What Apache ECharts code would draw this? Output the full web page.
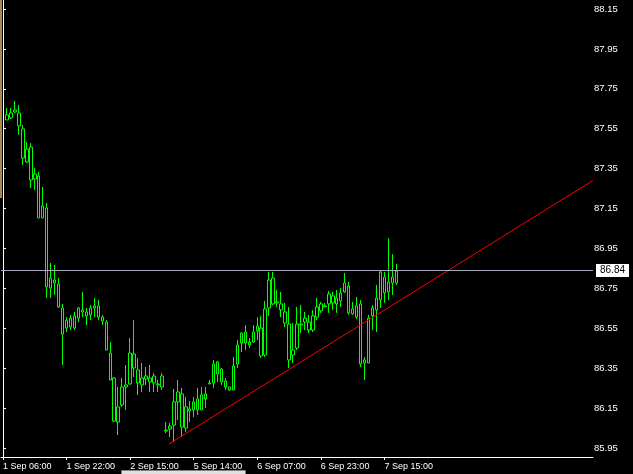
<!DOCTYPE html>
<html><head><meta charset="utf-8">
<script src="https://cdn.jsdelivr.net/npm/echarts@6/dist/echarts.min.js"></script>
<style>html,body{margin:0;padding:0;background:#000;}#c{width:633px;height:474px;}</style>
</head><body><div id="c"></div>
<script>
// hourly bars, slot 1 .. 99
const firstSlot = 1;
const slotCount = 149;
const opens  = [87.594,87.604,87.634,87.629,87.549,87.383,87.458,87.298,87.313,87.103,87.153,86.752,86.792,86.772,86.652,86.551,86.556,86.612,86.601,86.642,86.632,86.617,86.652,86.662,86.606,86.581,86.426,86.301,86.080,86.166,86.256,86.271,86.421,86.341,86.266,86.296,86.301,86.276,86.271,86.256,86.040,86.045,86.065,86.181,86.221,86.050,86.146,86.141,86.141,86.216,86.196,86.271,86.276,86.381,86.346,86.286,86.256,86.241,86.371,86.476,86.531,86.481,86.481,86.536,86.551,86.416,86.652,86.802,86.677,86.672,86.632,86.571,86.416,86.451,86.571,86.581,86.581,86.541,86.606,86.637,86.662,86.672,86.712,86.672,86.687,86.732,86.762,86.622,86.606,86.672,86.376,86.376,86.612,86.642,86.692,86.807,86.732,86.777,86.777];
const closes = [87.619,87.629,87.644,87.564,87.403,87.448,87.293,87.323,87.103,87.163,86.757,86.802,86.777,86.657,86.521,86.591,86.601,86.551,86.652,86.632,86.612,86.652,86.662,86.606,86.586,86.441,86.291,86.085,86.156,86.256,86.266,86.426,86.351,86.276,86.301,86.311,86.281,86.311,86.266,86.311,86.035,86.060,86.181,86.231,86.055,86.156,86.136,86.181,86.196,86.141,86.221,86.276,86.371,86.321,86.281,86.256,86.241,86.361,86.466,86.526,86.476,86.466,86.531,86.561,86.411,86.647,86.792,86.672,86.682,86.642,86.576,86.391,86.441,86.571,86.566,86.601,86.541,86.612,86.657,86.672,86.657,86.722,86.677,86.702,86.727,86.777,86.627,86.647,86.662,86.371,86.391,86.601,86.652,86.702,86.832,86.727,86.782,86.807,86.837];
const lows   = [87.594,87.599,87.629,87.519,87.368,87.378,87.253,87.243,87.103,87.103,86.702,86.702,86.717,86.652,86.366,86.531,86.541,86.541,86.581,86.606,86.566,86.591,86.606,86.591,86.566,86.441,86.291,86.080,86.015,86.156,86.141,86.266,86.306,86.216,86.231,86.266,86.231,86.231,86.231,86.241,86.025,86.005,85.980,86.090,86.005,86.030,86.080,86.105,86.115,86.141,86.151,86.271,86.251,86.281,86.266,86.241,86.236,86.241,86.351,86.431,86.441,86.451,86.476,86.491,86.401,86.406,86.612,86.667,86.657,86.606,86.556,86.351,86.376,86.441,86.526,86.541,86.526,86.531,86.591,86.627,86.657,86.627,86.642,86.627,86.657,86.727,86.617,86.617,86.596,86.356,86.291,86.376,86.541,86.531,86.652,86.677,86.692,86.717,86.767];
const highs  = [87.654,87.654,87.689,87.669,87.569,87.483,87.478,87.353,87.333,87.258,87.178,86.877,86.867,86.802,86.672,86.606,86.617,86.632,86.657,86.732,86.652,86.667,86.702,86.692,86.617,86.591,86.481,86.306,86.256,86.301,86.366,86.501,86.591,86.401,86.376,86.356,86.366,86.326,86.291,86.326,86.080,86.075,86.246,86.291,86.251,86.206,86.186,86.206,86.251,86.256,86.256,86.291,86.391,86.386,86.351,86.301,86.256,86.406,86.491,86.531,86.566,86.501,86.566,86.606,86.612,86.687,86.832,86.832,86.742,86.732,86.677,86.657,86.576,86.657,86.667,86.632,86.617,86.642,86.702,86.682,86.677,86.737,86.732,86.742,86.752,86.827,86.782,86.682,86.707,86.692,86.406,86.617,86.667,86.767,86.842,86.832,87.002,86.922,86.872];
const currentPrice = 86.84;
const trendX = [41.75, 148.5];
const trendY = [85.970, 87.291];
const timeLabels = ['1 Sep 06:00','1 Sep 22:00','2 Sep 15:00','5 Sep 14:00','6 Sep 07:00','6 Sep 23:00','7 Sep 15:00'];
const timeLabelStep = 16;
const priceTicks = [85.95,86.15,86.35,86.55,86.75,86.95,87.15,87.35,87.55,87.75,87.95,88.15];

const categories = [];
for (let s = 0; s < slotCount; s++) categories.push(String(s));
const rows = opens.map((o, k) => [firstSlot + k, o, closes[k], lows[k], highs[k]]);
const trend = trendX.map((x, k) => [x, trendY[k]]);

const FONT = 'Liberation Sans';
const chart = echarts.init(document.getElementById('c'), null, {renderer: 'canvas'});
chart.setOption({
  backgroundColor: '#000',
  animation: false,
  grid: {left: -3, top: 0, width: 596, height: 457},
  xAxis: [{
    type: 'category', data: categories, boundaryGap: true,
    axisLine: {show: true, lineStyle: {color: '#fff', width: 1}},
    axisTick: {show: true, alignWithLabel: true, length: 3, lineStyle: {color: '#fff'},
      interval: (i) => i % timeLabelStep === 0 && i / timeLabelStep < timeLabels.length},
    axisLabel: {show: true, color: '#fff', fontFamily: FONT, fontSize: 9, align: 'left', margin: 5,
      padding: [0, 0, 0, 0], hideOverlap: false,
      interval: (i) => i % timeLabelStep === 0 && i / timeLabelStep < timeLabels.length,
      formatter: (v, i) => timeLabels[i / timeLabelStep] || ''},
    splitLine: {show: false}
  }, {
    type: 'value', min: -0.5, max: slotCount - 0.5, show: false
  }],
  yAxis: {
    type: 'value', position: 'right', min: 85.905, max: 88.195, scale: true,
    axisLine: {show: true, lineStyle: {color: '#fff', width: 1}},
    axisTick: {show: true, length: 3, lineStyle: {color: '#fff'}, customValues: priceTicks},
    axisLabel: {show: true, color: '#fff', fontFamily: FONT, fontSize: 9.5, margin: 1,
      customValues: priceTicks, formatter: (v) => v.toFixed(2)},
    splitLine: {show: false}
  },
  graphic: [
    {type: 'rect', shape: {x: 0, y: 0, width: 2, height: 198}, style: {fill: '#a88a50'}, z: 100},
    {type: 'rect', shape: {x: 121.5, y: 470.5, width: 124, height: 6}, style: {fill: '#e0e0e0', stroke: '#808080', lineWidth: 1}, z: 100}
  ],
  series: [{
    type: 'candlestick', xAxisIndex: 0, yAxisIndex: 0,
    data: rows, encode: {x: 0, y: [1, 2, 3, 4]},
    barWidth: 3,
    itemStyle: {color: '#000', color0: '#000', borderColor: '#00ff00', borderColor0: '#00ff00', borderWidth: 1},
    markLine: {
      silent: true, symbol: 'none', animation: false,
      lineStyle: {color: '#a4acbe', width: 1, type: 'solid'},
      label: {show: true, position: 'end', distance: 3, formatter: () => currentPrice.toFixed(2),
        backgroundColor: '#fff', color: '#000', fontFamily: FONT, fontSize: 10, padding: [2, 4, 1, 4]},
      data: [{yAxis: currentPrice}]
    }
  }, {
    type: 'line', xAxisIndex: 1, yAxisIndex: 0, data: trend, symbol: 'none',
    lineStyle: {color: '#ff0000', width: 1}, clip: true, z: 3
  }]
});
</script></body></html>
